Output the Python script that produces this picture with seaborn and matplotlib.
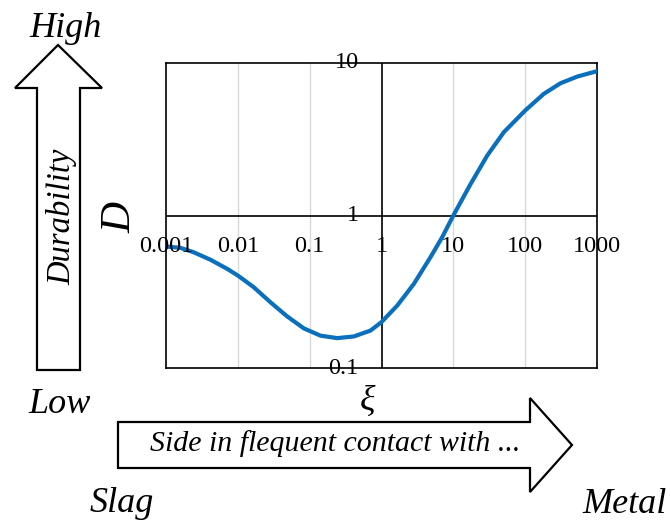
# Durabilidad D frente a xi (escala log-log)
import matplotlib.pyplot as plt
from matplotlib.patches import Polygon
import seaborn as sns
import pandas as pd

xi = [0.001, 0.00158, 0.00243, 0.00415, 0.0071, 0.01, 0.0166, 0.0284, 0.0486,
      0.0828, 0.141, 0.242, 0.411, 0.703, 1, 1.66, 2.82, 4.81, 7.0, 10,
      17.4, 29.6, 50.5, 100, 182, 311, 532, 1000]
D = [0.626, 0.614, 0.574, 0.513, 0.447, 0.404, 0.339, 0.270, 0.218,
     0.182, 0.163, 0.157, 0.161, 0.176, 0.200, 0.257, 0.356, 0.533, 0.721, 1.0,
     1.61, 2.47, 3.52, 4.88, 6.28, 7.37, 8.15, 8.84]

x_ticks = [0.001, 0.01, 0.1, 1, 10, 100, 1000]
x_labels = ['0.001', '0.01', '0.1', '1', '10', '100', '1000']
y_ticks = [0.1, 1, 10]
y_labels = ['0.1', '1', '10']

sns.set_style('white')
plt.rcParams['font.family'] = ['Liberation Serif', 'DejaVu Serif']
plt.rcParams['text.color'] = 'black'

df = pd.DataFrame({'xi': xi, 'D': D})

fig = plt.figure(figsize=(6.71, 5.20), dpi=100)
ax = fig.add_axes([166 / 671, 1 - 368 / 520, 431 / 671, 305 / 520])

sns.lineplot(data=df, x='xi', y='D', ax=ax, color='#0a6fbd', linewidth=3, zorder=3)
ax.set_xscale('log')
ax.set_yscale('log')
ax.set_xlim(0.001, 1000)
ax.set_ylim(0.1, 10)
ax.set_xticks([])
ax.set_yticks([])
ax.minorticks_off()
ax.set_xlabel('')
ax.set_ylabel('')

# rejilla vertical y ejes cruzados en 1
for v in [0.01, 0.1, 10, 100]:
    ax.axvline(v, color='#d9d9d9', lw=1, zorder=1)
ax.axvline(1, color='black', lw=1.2, zorder=2)
ax.axhline(1, color='black', lw=1.2, zorder=2)
for s in ax.spines.values():
    s.set_color('black')
    s.set_linewidth(1.2)

for v, lab in zip(x_ticks, x_labels):
    ax.annotate(lab, (v, 1), xytext=(0, -22.5), textcoords='offset points',
                ha='center', va='center', fontsize=17.5, annotation_clip=False)
for v, lab in zip(y_ticks, y_labels):
    ax.annotate(lab, (1, v), xytext=(-16.5, 0), textcoords='offset points',
                ha='right', va='center', fontsize=17.5, annotation_clip=False)

# capa para flechas y textos (coordenadas en pixeles)
ov = fig.add_axes([0, 0, 1, 1], zorder=-1)
ov.set_xlim(0, 671)
ov.set_ylim(520, 0)
ov.axis('off')

up = [(37, 370), (80, 370), (80, 88), (102, 88), (58, 45), (15, 88), (37, 88)]
right = [(118, 422), (530, 422), (530, 398), (572, 445), (530, 492), (530, 468), (118, 468)]
for pts in (up, right):
    ov.add_patch(Polygon(pts, closed=True, facecolor='white', edgecolor='black', lw=1.6))

ov.text(66, 37, 'High', fontsize=26, style='italic', ha='center', va='baseline')
ov.text(60, 413, 'Low', fontsize=26, style='italic', ha='center', va='baseline')
ov.text(90, 512, 'Slag', fontsize=26, style='italic', ha='left', va='baseline')
ov.text(582, 513, 'Metal', fontsize=26, style='italic', ha='left', va='baseline')
ov.text(62, 217, 'Durability', fontsize=23.5, style='italic', rotation=90,
        ha='center', va='center')
fig.text(120 / 671, 1 - 217 / 520, 'D', fontsize=31, style='italic', rotation=90,
         ha='center', va='center')
ov.text(368, 401, 'ξ', fontsize=26, style='italic', ha='center', va='center')
ov.text(335, 444, 'Side in flequent contact with ...', fontsize=21.5, style='italic',
        ha='center', va='center')

plt.savefig('out.png', dpi=100)
plt.close()
